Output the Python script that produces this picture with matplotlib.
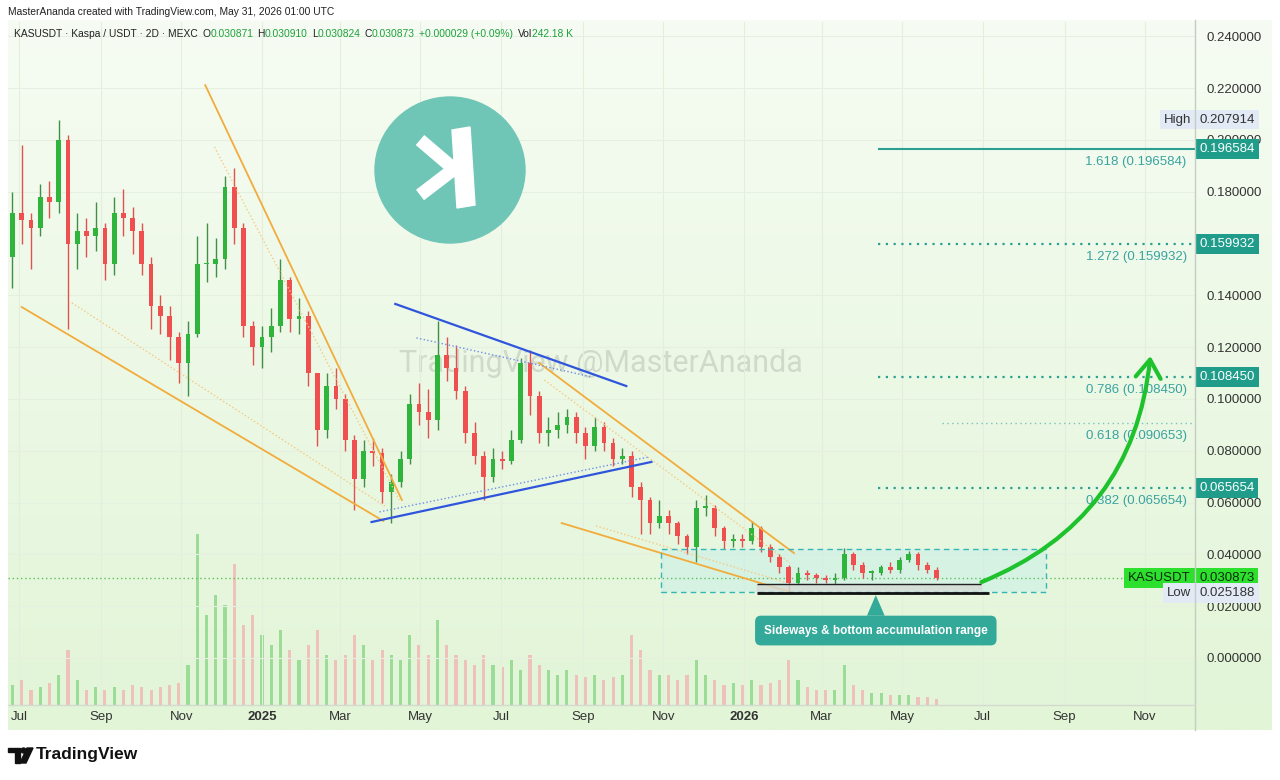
import numpy as np
import pandas as pd
import matplotlib
matplotlib.use('Agg')
import matplotlib.pyplot as plt
import matplotlib.dates as mdates
from matplotlib.patches import Rectangle, Ellipse, Polygon

plt.rcParams['font.family'] = ['Liberation Sans', 'DejaVu Sans']

# weekly bars
dates = pd.date_range('2024-06-26', periods=101, freq='7D')
first_open = 0.155
close = [0.172, 0.169, 0.166, 0.178, 0.176, 0.200, 0.160, 0.165, 0.163, 0.166,
         0.152, 0.172, 0.170, 0.165, 0.152, 0.136, 0.132, 0.124, 0.114, 0.125,
         0.152, 0.152, 0.154, 0.182, 0.166, 0.128, 0.120, 0.124, 0.128, 0.146,
         0.131, 0.132, 0.110, 0.088, 0.105, 0.100, 0.084, 0.069, 0.080, 0.079,
         0.064, 0.068, 0.077, 0.098, 0.095, 0.092, 0.117, 0.112, 0.103, 0.087,
         0.078, 0.070, 0.077, 0.076, 0.084, 0.114, 0.101, 0.087, 0.088, 0.090,
         0.093, 0.087, 0.082, 0.089, 0.083, 0.077, 0.078, 0.066, 0.061, 0.052,
         0.055, 0.052, 0.047, 0.043, 0.058, 0.058, 0.050, 0.045, 0.046, 0.045,
         0.050, 0.043, 0.039, 0.035, 0.029, 0.033, 0.032, 0.031, 0.030, 0.031,
         0.040, 0.036, 0.033, 0.033, 0.035, 0.034, 0.038, 0.040, 0.036, 0.034,
         0.030873]
high = [0.180, 0.198, 0.172, 0.183, 0.184, 0.207914, 0.202, 0.172, 0.170, 0.176,
        0.168, 0.178, 0.181, 0.174, 0.168, 0.155, 0.140, 0.136, 0.126, 0.130,
        0.163, 0.168, 0.162, 0.186, 0.189, 0.168, 0.130, 0.128, 0.135, 0.154,
        0.147, 0.139, 0.134, 0.110, 0.110, 0.112, 0.102, 0.086, 0.084, 0.085,
        0.081, 0.071, 0.080, 0.102, 0.106, 0.104, 0.130, 0.124, 0.121, 0.105,
        0.091, 0.080, 0.081, 0.080, 0.088, 0.116, 0.119, 0.103, 0.093, 0.095,
        0.096, 0.095, 0.089, 0.093, 0.091, 0.085, 0.081, 0.080, 0.068, 0.062,
        0.061, 0.057, 0.053, 0.048, 0.061, 0.063, 0.059, 0.051, 0.048, 0.048,
        0.053, 0.051, 0.044, 0.040, 0.036, 0.035, 0.034, 0.033, 0.032, 0.033,
        0.0425, 0.041, 0.037, 0.034, 0.036, 0.037, 0.039, 0.0415, 0.041, 0.037,
        0.035]
low = [0.143, 0.160, 0.150, 0.163, 0.170, 0.172, 0.127, 0.150, 0.155, 0.157,
       0.146, 0.148, 0.163, 0.156, 0.148, 0.127, 0.125, 0.115, 0.106, 0.101,
       0.124, 0.145, 0.147, 0.150, 0.160, 0.124, 0.113, 0.112, 0.118, 0.126,
       0.126, 0.125, 0.105, 0.082, 0.085, 0.096, 0.080, 0.057, 0.066, 0.074,
       0.060, 0.052, 0.066, 0.075, 0.090, 0.085, 0.088, 0.107, 0.100, 0.083,
       0.075, 0.061, 0.068, 0.073, 0.075, 0.083, 0.094, 0.083, 0.082, 0.085,
       0.087, 0.083, 0.077, 0.080, 0.080, 0.074, 0.075, 0.062, 0.048, 0.048,
       0.050, 0.048, 0.044, 0.040, 0.037, 0.055, 0.047, 0.042, 0.043, 0.043,
       0.044, 0.041, 0.037, 0.033, 0.025188, 0.028, 0.030, 0.029, 0.029, 0.0285,
       0.030, 0.034, 0.031, 0.030, 0.032, 0.033, 0.033, 0.037, 0.034, 0.033,
       0.030]
volume = [20, 25, 15, 18, 22, 30, 55, 25, 15, 18,
          15, 18, 15, 20, 18, 15, 18, 20, 22, 40,
          170, 90, 110, 100, 140, 80, 90, 70, 60, 75,
          55, 45, 60, 75, 50, 45, 50, 70, 60, 45,
          55, 50, 45, 70, 60, 50, 85, 60, 50, 45,
          40, 50, 40, 38, 45, 35, 50, 40, 35, 30,
          35, 30, 28, 30, 25, 28, 30, 70, 55, 35,
          30, 30, 25, 30, 45, 30, 25, 20, 22, 20,
          25, 20, 22, 25, 45, 25, 18, 15, 15, 15,
          40, 20, 15, 12, 12, 10, 10, 10, 8, 8, 6]

last_price = 0.030873
high_price = 0.207914
low_price = 0.025188

# fibonacci extension levels
fib_ratio = ['1.618', '1.272', '0.786', '0.618', '0.382']
fib_price = [0.196584, 0.159932, 0.108450, 0.090653, 0.065654]
fib_start = ['2026-04-13', '2026-04-13', '2026-04-13', '2026-05-31', '2026-04-13']
fib_tagged = [True, True, True, False, True]

# trendlines: (date0, price0, date1, price1, color, style, width)
trendlines = [
    ('2024-07-03', 0.1355, '2025-04-03', 0.0529, '#f2ac3c', '-', 1.3),
    ('2024-08-10', 0.1371, '2025-04-05', 0.0583, '#f6c97f', ':', 1.0),
    ('2024-11-19', 0.2212, '2025-04-17', 0.0610, '#f2ac3c', '-', 1.3),
    ('2024-11-26', 0.1973, '2025-04-15', 0.0610, '#f6c97f', ':', 1.0),
    ('2025-07-30', 0.1139, '2026-02-08', 0.0405, '#f2ac3c', '-', 1.3),
    ('2025-08-03', 0.1073, '2026-02-05', 0.0367, '#f6c97f', ':', 1.0),
    ('2025-08-16', 0.0521, '2026-02-05', 0.0255, '#f2ac3c', '-', 1.3),
    ('2025-09-11', 0.0510, '2026-02-01', 0.0293, '#f6c97f', ':', 1.0),
    ('2025-04-12', 0.1367, '2025-10-04', 0.1050, '#2f55dc', '-', 1.6),
    ('2025-04-28', 0.1236, '2025-09-08', 0.1085, '#6f8ee6', ':', 1.0),
    ('2025-03-25', 0.0525, '2025-10-23', 0.0757, '#2f55dc', '-', 1.6),
    ('2025-03-31', 0.0564, '2025-10-21', 0.0776, '#6f8ee6', ':', 1.0),
]

# accumulation range box and support lines
range_dates = ('2025-10-30', '2026-08-18')
range_prices = (0.0255, 0.0421)
support_dates = ('2026-01-11', '2026-06-30', '2026-07-06')
support_prices = (0.0286, 0.0251)
callout_date = '2026-04-11'
arrow_from = ('2026-06-30', 0.0293)
arrow_to = ('2026-11-05', 0.1166)

month_ticks = ['2024-07-01', '2024-09-01', '2024-11-01', '2025-01-01', '2025-03-01',
               '2025-05-01', '2025-07-01', '2025-09-01', '2025-11-01', '2026-01-01',
               '2026-03-01', '2026-05-01', '2026-07-01', '2026-09-01', '2026-11-01']
month_labels = ['Jul', 'Sep', 'Nov', '2025', 'Mar', 'May', 'Jul', 'Sep', 'Nov',
                '2026', 'Mar', 'May', 'Jul', 'Sep', 'Nov']
price_ticks = [0.0, 0.02, 0.04, 0.06, 0.08, 0.10, 0.12, 0.14, 0.18, 0.20, 0.22, 0.24]

W, H = 1280, 780
fig = plt.figure(figsize=(W / 100, H / 100), dpi=100)
fig.patch.set_facecolor('white')

def rect(x0, y0, x1, y1):
    # pixel box (top-left origin) -> figure fraction
    return [x0 / W, 1 - y1 / H, (x1 - x0) / W, (y1 - y0) / H]

# background
bg = fig.add_axes([0, 0, 1, 1], zorder=0)
bg.set_xlim(0, W)
bg.set_ylim(H, 0)
bg.axis('off')
grad = np.linspace(0, 1, 200)[:, None]
c0 = np.array([246, 252, 243]) / 255
c1 = np.array([226, 245, 215]) / 255
img = c0 + (c1 - c0) * grad[..., None]
img = np.repeat(img, 2, axis=1)
bg.imshow(img, extent=(8, 1272, 730, 20), aspect='auto', interpolation='bilinear')
bg.text(601, 364, 'TradingView @MasterAnanda', fontsize=22, color='#9aa39a',
        alpha=0.35, ha='center', va='center', family=['Roboto', 'DejaVu Sans'])

base = mdates.date2num(pd.Timestamp('2025-01-01'))
xlim = (base - 192.4, base + 706.8)
ylim = (-0.01815, 0.24556)
pos = rect(8, 22, 1195, 705)

xd = mdates.date2num(dates)
close = np.array(close)
high = np.array(high)
low = np.array(low)
opens = np.r_[first_open, close[:-1]]
up = close >= opens

# volume
vax = fig.add_axes(pos, zorder=1)
vax.patch.set_alpha(0)
vax.set_xlim(*xlim)
vax.set_ylim(0, max(volume) * 4.0)
vax.bar(xd, volume, width=2.4, color=np.where(up, '#8fd88c', '#f1b9b4'), alpha=0.85)
vax.axis('off')

# price
ax = fig.add_axes(pos, zorder=2)
ax.patch.set_alpha(0)
ax.set_xlim(*xlim)
ax.set_ylim(*ylim)
for s in ax.spines.values():
    s.set_visible(False)

for t in month_ticks:
    ax.axvline(mdates.date2num(pd.Timestamp(t)), color='#e3eedd', lw=0.8, zorder=0)
for p in price_ticks:
    ax.axhline(p, color='#e6f0e0', lw=0.8, zorder=0)

ax.vlines(xd, low, high, colors=np.where(up, '#3f8f46', '#e0524f'), lw=1.0, zorder=3)
body_lo = np.minimum(opens, close)
body_h = np.maximum(np.abs(close - opens), 0.0006)
ax.bar(xd, body_h, bottom=body_lo, width=3.6, color=np.where(up, '#2fb53c', '#ef4f4f'), zorder=4)

for d0, p0, d1, p1, col, ls, lw in trendlines:
    ax.plot([pd.Timestamp(d0), pd.Timestamp(d1)], [p0, p1], color=col, ls=ls, lw=lw, zorder=5)

r0, r1 = [mdates.date2num(pd.Timestamp(d)) for d in range_dates]
ax.add_patch(Rectangle((r0, range_prices[0]), r1 - r0, range_prices[1] - range_prices[0],
                       facecolor='#c9efe9', alpha=0.55, edgecolor='none', zorder=2))
ax.add_patch(Rectangle((r0, range_prices[0]), r1 - r0, range_prices[1] - range_prices[0],
                       facecolor='none', edgecolor='#35b7b5', ls=(0, (4, 3)), lw=1.0, zorder=6))

s0, s1, s2 = [mdates.date2num(pd.Timestamp(d)) for d in support_dates]
ax.fill_between([s0, s1], support_prices[1], support_prices[0], color='#d5dad4', alpha=0.8, zorder=5)
ax.hlines(support_prices[0], s0, s1, color='#222222', lw=1.0, zorder=6)
ax.hlines(support_prices[1], s0, s2, color='#111111', lw=2.0, zorder=6)

ax.axhline(last_price, color='#5cbf5c', ls=(0, (1, 2)), lw=1.0, zorder=2)

teal = '#2aa093'
for ratio, price, start, tagged in zip(fib_ratio, fib_price, fib_start, fib_tagged):
    x0 = mdates.date2num(pd.Timestamp(start))
    if ratio == '1.618':
        ax.hlines(price, x0, xlim[1], color=teal, lw=1.5, zorder=6)
    elif tagged:
        ax.hlines(price, x0, xlim[1], color=teal, ls=(0, (1, 2.5)), lw=1.6, zorder=6)
    else:
        ax.hlines(price, x0, xlim[1], color='#7cc2bb', ls=(0, (1, 2.5)), lw=1.0, zorder=6)
    ax.annotate(f'{ratio} ({price:.6f})', xy=(1.0, price), xycoords=('axes fraction', 'data'),
                xytext=(-6, -5), textcoords='offset points', ha='right', va='top',
                fontsize=9.5, color='#3aa3a0', zorder=7)
    if tagged:
        ax.annotate(f'{price:.6f}', xy=(1.0, price), xycoords=('axes fraction', 'data'),
                    xytext=(3, 0), textcoords='offset points', ha='left', va='center',
                    fontsize=9.5, color='white', annotation_clip=False, zorder=8,
                    bbox=dict(boxstyle='square,pad=0.3', fc='#1f9c8a', ec='none'))

# callout
ax.annotate('Sideways & bottom accumulation range',
            xy=(pd.Timestamp(callout_date), 0.0243), xytext=(pd.Timestamp(callout_date), 0.0106),
            ha='center', va='center', fontsize=8.5, color='white', fontweight='bold', zorder=9,
            bbox=dict(boxstyle='round,pad=0.75,rounding_size=0.5', fc='#32a999', ec='none'),
            arrowprops=dict(arrowstyle='wedge,tail_width=1.5,shrink_factor=0.5',
                            fc='#32a999', ec='none', shrinkA=0, shrinkB=0))

# projected move
ax.annotate('', xy=(pd.Timestamp(arrow_to[0]), arrow_to[1]),
            xytext=(pd.Timestamp(arrow_from[0]), arrow_from[1]), zorder=9,
            arrowprops=dict(arrowstyle='->,head_length=1.3,head_width=0.9',
                            connectionstyle='arc3,rad=0.3', color='#1ec22c', lw=3,
                            shrinkA=0, shrinkB=0))

# axes ticks
ax.yaxis.tick_right()
ax.set_yticks(price_ticks)
ax.set_yticklabels([f'{p:.6f}' for p in price_ticks])
ax.tick_params(axis='y', length=0, pad=8, labelsize=9.5, labelcolor='#333333')
ax.set_xticks([mdates.date2num(pd.Timestamp(t)) for t in month_ticks])
ax.set_xticklabels(month_labels)
ax.tick_params(axis='x', length=0, pad=4.5, labelsize=9.5, labelcolor='#333333')
for lab in ax.get_xticklabels():
    if lab.get_text() in ('2025', '2026'):
        lab.set_fontweight('bold')

# price scale tags
ax.annotate('KASUSDT', xy=(1.0, last_price), xycoords=('axes fraction', 'data'),
            xytext=(-3, 0), textcoords='offset points', ha='right', va='center',
            fontsize=9.5, color='#0d2b0d', annotation_clip=False, zorder=8,
            bbox=dict(boxstyle='square,pad=0.3', fc='#2ee02e', ec='none'))
ax.annotate(f'{last_price:.6f}', xy=(1.0, last_price), xycoords=('axes fraction', 'data'),
            xytext=(3, 0), textcoords='offset points', ha='left', va='center',
            fontsize=9.5, color='#0d2b0d', annotation_clip=False, zorder=8,
            bbox=dict(boxstyle='square,pad=0.3', fc='#2ee02e', ec='none'))
for name, val in (('High', high_price), ('Low', low_price)):
    ax.annotate(name, xy=(1.0, val), xycoords=('axes fraction', 'data'),
                xytext=(-3, 0), textcoords='offset points', ha='right', va='center',
                fontsize=9.5, color='#333333', annotation_clip=False, zorder=8,
                bbox=dict(boxstyle='square,pad=0.3', fc='#e2eaf6', ec='none'))
    ax.annotate(f'{val:.6f}', xy=(1.0, val), xycoords=('axes fraction', 'data'),
                xytext=(3, 0), textcoords='offset points', ha='left', va='center',
                fontsize=9.5, color='#333333', annotation_clip=False, zorder=8,
                bbox=dict(boxstyle='square,pad=0.3', fc='#e2eaf6', ec='none'))

# overlay: frame lines, header, logos
ov = fig.add_axes([0, 0, 1, 1], zorder=3)
ov.set_xlim(0, W)
ov.set_ylim(H, 0)
ov.axis('off')
ov.plot([1195, 1195], [20, 730], color='#c5cdc2', lw=1)
ov.plot([8, 1195], [705, 705], color='#d3dbd0', lw=1)

ov.add_patch(Ellipse((450, 170), 150, 146, color='#70c6b6'))
ov.add_patch(Polygon([(452, 130), (470, 127), (475, 205), (457, 208)], color='white'))
ov.plot([420, 454, 420], [140, 169, 195], color='white', lw=9.5,
        solid_joinstyle='miter', solid_capstyle='butt')

renderer = fig.canvas.get_renderer()

def chain(x, y, parts, size):
    for txt, col, gap in parts:
        t = ov.text(x, y, txt, color=col, fontsize=size, va='center', ha='left')
        x += t.get_window_extent(renderer=renderer).width + gap

ov.text(8, 12, 'MasterAnanda created with TradingView.com, May 31, 2026 01:00 UTC',
        fontsize=7.4, color='#222222', va='center')
dark, grn = '#222222', '#1ea23a'
chain(14, 34, [('KASUSDT · Kaspa / USDT · 2D · MEXC', dark, 5),
               ('O', dark, 0), ('0.030871', grn, 4),
               ('H', dark, 0), ('0.030910', grn, 4),
               ('L', dark, 0), ('0.030824', grn, 4),
               ('C', dark, 0), ('0.030873', grn, 4),
               ('+0.000029 (+0.09%)', grn, 5),
               ('Vol', dark, 0), ('242.18 K', grn, 0)], 7.4)

# TradingView wordmark
ov.add_patch(Polygon([(8, 748), (20, 748), (20, 763), (15, 763), (15, 752), (8, 752)], color='#111111'))
ov.add_patch(Ellipse((23.5, 750.5), 5, 5, color='#111111'))
ov.add_patch(Polygon([(27, 748), (33, 748), (26, 763), (20, 763)], color='#111111'))
ov.text(36, 755, 'TradingView', fontsize=12.5, fontweight='bold', color='#111111', va='center')

fig.savefig('out.png', dpi=100, facecolor='white')
